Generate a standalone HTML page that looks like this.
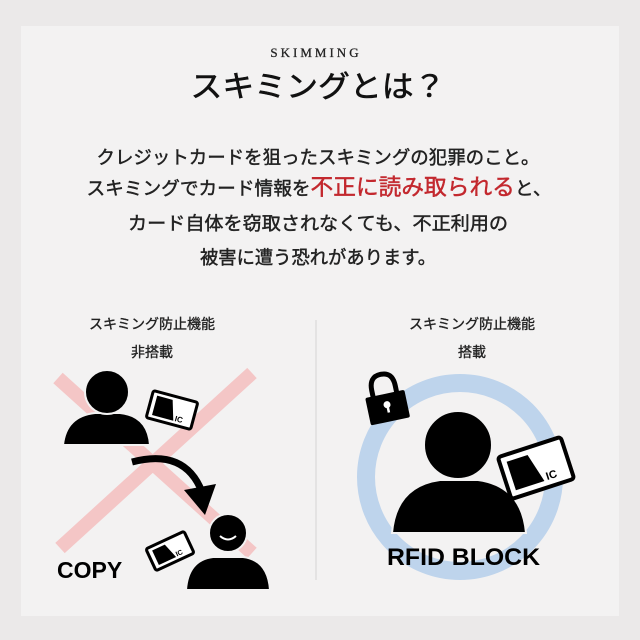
<!DOCTYPE html>
<html><head><meta charset="utf-8"><style>
html,body{margin:0;padding:0;background:#ebe9e9;}
svg{display:block;}
.jp{font-family:"Liberation Sans","Noto Sans CJK JP",sans-serif;}
</style></head><body>
<svg width="640" height="640" viewBox="0 0 640 640" xmlns="http://www.w3.org/2000/svg">
<rect x="0" y="0" width="640" height="640" fill="#ebe9e9"/>
<rect x="21" y="26" width="598" height="590" fill="#f3f2f2"/>
<text x="316" y="57" text-anchor="middle" font-family="Liberation Serif,serif" font-size="13" letter-spacing="3" fill="#222" stroke="#222" stroke-width="0.3">SKIMMING</text>
<text class="jp" x="318" y="97" text-anchor="middle" font-size="30" fill="#111" stroke="#111" stroke-width="0.6" textLength="255" lengthAdjust="spacingAndGlyphs">スキミングとは？</text>
<g class="jp" fill="#222" stroke="#222" stroke-width="0.45" font-size="18.5" text-anchor="middle">
<text x="318" y="164" textLength="443" lengthAdjust="spacingAndGlyphs">クレジットカードを狙ったスキミングの犯罪のこと。</text>
<text x="319" y="195" textLength="465" lengthAdjust="spacingAndGlyphs">スキミングでカード情報を<tspan fill="#c3282e" stroke="#c3282e" font-size="22.5">不正に読み取られる</tspan>と、</text>
<text x="318" y="230" textLength="380" lengthAdjust="spacingAndGlyphs">カード自体を窃取されなくても、不正利用の</text>
<text x="318" y="264" textLength="236" lengthAdjust="spacingAndGlyphs">被害に遭う恐れがあります。</text>
</g>
<g class="jp" fill="#222" stroke="#222" stroke-width="0.35" font-size="14" text-anchor="middle">
<text x="152" y="329">スキミング防止機能</text>
<text x="152" y="357">非搭載</text>
<text x="472" y="329">スキミング防止機能</text>
<text x="472" y="357">搭載</text>
</g>
<line x1="316" y1="320" x2="316" y2="580" stroke="#d6d4d4" stroke-width="1"/>

<!-- left -->
<g stroke="#f4c6c6" stroke-width="14" stroke-linecap="butt">
<line x1="58" y1="378" x2="252" y2="553"/>
<line x1="252" y1="373" x2="60" y2="548"/>
</g>
<g fill="#000" stroke="#f3f2f2" stroke-width="2">
<path d="M63 445 Q66 416 95 413 L120 413 Q148 416 150 445 Z"/>
<circle cx="107" cy="392" r="22"/>
</g>
<g transform="translate(172 410) rotate(15)">
<rect x="-23" y="-14" width="46" height="28" rx="2" fill="#fff" stroke="#000" stroke-width="3"/>
<path d="M-18 -10 L-2 -10 L4 10 L-18 10 Z" fill="#000"/>
<text x="5" y="10" font-family="Liberation Sans,sans-serif" font-weight="bold" font-size="8">IC</text>
</g>
<path d="M132 462 Q185 448 202 492" fill="none" stroke="#000" stroke-width="7"/>
<path d="M184 490 L216 484 L205 515 Z" fill="#000"/>
<g transform="translate(170 551) rotate(-25)">
<rect x="-21" y="-12" width="42" height="24" rx="2" fill="#fff" stroke="#000" stroke-width="3"/>
<path d="M-16 -8 L-2 -8 L3 8 L-16 8 Z" fill="#000"/>
<text x="4" y="8" font-family="Liberation Sans,sans-serif" font-weight="bold" font-size="7">IC</text>
</g>
<g fill="#000" stroke="#f3f2f2" stroke-width="2">
<path d="M186 590 Q188 560 213 557 L243 557 Q268 560 270 590 Z"/>
<circle cx="228" cy="533" r="19"/>
</g>
<path d="M220 536 Q228 543 236 536" fill="none" stroke="#fff" stroke-width="2"/>
<text x="57" y="578" font-family="Liberation Sans,sans-serif" font-weight="bold" font-size="23" fill="#000">COPY</text>

<!-- right -->
<circle cx="460" cy="477" r="94" fill="none" stroke="#bed4ec" stroke-width="18"/>
<g transform="rotate(-12 385 400)">
<path d="M374 396 L374 388 Q374 374 386 374 Q398 374 398 388 L398 396" fill="none" stroke="#000" stroke-width="5"/>
<rect x="366" y="394" width="40" height="28" rx="2" fill="#000"/>
<circle cx="386" cy="405" r="3.5" fill="#fff"/>
<rect x="385" y="405" width="2.5" height="8" fill="#fff"/>
</g>
<g fill="#000" stroke="#f3f2f2" stroke-width="2">
<path d="M392 533 Q396 486 440 480 L478 480 Q522 486 526 533 Z"/>
<circle cx="458" cy="445" r="34"/>
</g>
<g transform="translate(536 468) rotate(-18)">
<rect x="-33" y="-22" width="66" height="44" rx="3" fill="#fff" stroke="#000" stroke-width="4"/>
<path d="M-26 -15 L-4 -15 L4 15 L-26 15 Z" fill="#000"/>
<text x="7" y="15" font-family="Liberation Sans,sans-serif" font-weight="bold" font-size="11">IC</text>
</g>
<text x="387" y="565" font-family="Liberation Sans,sans-serif" font-weight="bold" font-size="24" fill="#000" textLength="153" lengthAdjust="spacingAndGlyphs">RFID BLOCK</text>
</svg>
</body></html>
